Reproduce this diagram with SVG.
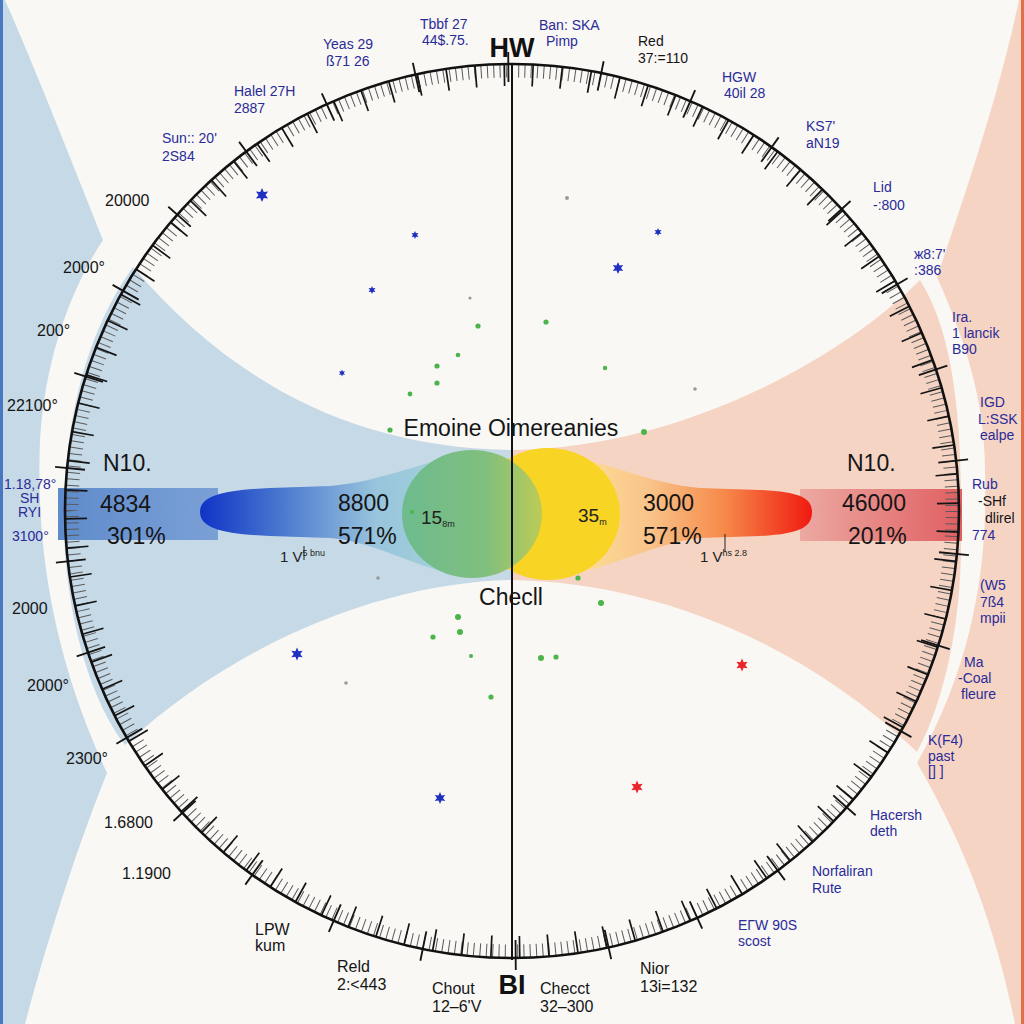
<svg xmlns="http://www.w3.org/2000/svg" width="1024" height="1024" viewBox="0 0 1024 1024">
<style>
text{font-family:"Liberation Sans",Arial,sans-serif}
.b{font-size:14px;fill:#2b2b98}
.k{font-size:16px;fill:#151515}
.kb{font-size:14px;fill:#151515}
.big{font-size:23px;fill:#151515}
.hd{font-size:27px;font-weight:bold;fill:#111}
.sm{font-size:9px;fill:#222}
.g{fill:#4cb54a}
.gr{fill:#9a9a9a}
.bs{fill:#1f2fbf}
.rs{fill:#e8262a}
</style>
<defs>
<path id="star" d="M0,-1 L0.25,-0.433 L0.866,-0.5 L0.5,0 L0.866,0.5 L0.25,0.433 L0,1 L-0.25,0.433 L-0.866,0.5 L-0.5,0 L-0.866,-0.5 L-0.25,-0.433 Z"/>
<linearGradient id="lstrip" x1="0" x2="1" y1="0" y2="0">
<stop offset="0" stop-color="#5f8bcb"/><stop offset="1" stop-color="#7ba0d6"/>
</linearGradient>
<linearGradient id="rstrip" x1="0" x2="1" y1="0" y2="0">
<stop offset="0" stop-color="#eca9a2"/><stop offset="1" stop-color="#e05f62"/>
</linearGradient>
<linearGradient id="lfun" gradientUnits="userSpaceOnUse" x1="200" y1="0" x2="470" y2="0">
<stop offset="0" stop-color="#0f33c6"/><stop offset="0.3" stop-color="#4a78cf"/><stop offset="0.65" stop-color="#98c4dd"/><stop offset="1" stop-color="#a6d6d4"/>
</linearGradient>
<linearGradient id="rfun" gradientUnits="userSpaceOnUse" x1="560" y1="0" x2="812" y2="0">
<stop offset="0" stop-color="#fde69a"/><stop offset="0.35" stop-color="#f9c48a"/><stop offset="0.65" stop-color="#f68a4a"/><stop offset="1" stop-color="#f01a10"/>
</linearGradient>
<linearGradient id="grn" x1="0" x2="1" y1="0" y2="0">
<stop offset="0" stop-color="#6dbb8e"/><stop offset="0.6" stop-color="#80bf7e"/><stop offset="1" stop-color="#bccb55"/>
</linearGradient>
</defs>

<!-- background -->
<rect x="0" y="0" width="512" height="1024" fill="#c6d9e7"/>
<rect x="512" y="0" width="512" height="1024" fill="#f5d4c4"/>
<path fill="#f9f8f5" d="M 5,0 C 40,80 75,170 103,240 C 70,290 45,360 40,440 C 36,540 50,650 107,773 C 80,840 50,930 25,1024 L 512,1024 L 512,580 C 400,582 250,630 125,745 C 90,700 68,620 64,537 C 62,440 80,340 133,267 C 230,380 350,448 512,450 L 512,0 Z"/>
<path fill="#f9f8f5" d="M 1019,0 C 1000,90 970,180 937,277 C 965,340 985,400 985,470 C 988,560 975,660 917,763 C 950,820 990,900 1015,1024 L 512,1024 L 512,580 C 650,582 800,640 917,752 C 945,700 962,620 961,537 C 962,440 958,340 920,280 C 840,360 680,448 512,450 L 512,0 Z"/>
<rect x="0" y="0" width="3" height="1024" fill="#4a78c0"/>
<rect x="1021" y="0" width="3" height="1024" fill="#e0704a"/>

<!-- central band -->
<g id="band">
<rect x="58" y="488" width="160" height="52" fill="url(#lstrip)"/>
<rect x="800" y="489" width="162" height="52" fill="url(#rstrip)"/>
<path fill="url(#lfun)" d="M 200,512 C 200,495 225,490 270,488 L 330,486 C 380,482 420,462 475,452 L 475,578 C 420,572 380,542 330,538 L 270,536 C 225,534 200,529 200,512 Z"/>
<path fill="url(#rfun)" d="M 812,512 C 812,498 800,492 760,490 L 700,488 C 650,484 610,462 550,452 L 550,578 C 610,570 650,544 700,538 L 760,536 C 800,534 812,527 812,512 Z"/>
<ellipse cx="548" cy="514" rx="72" ry="66" fill="#f8d424"/>
<ellipse cx="472" cy="514" rx="70" ry="64" fill="url(#grn)"/>
</g>

<!-- dial -->
<g id="dial" fill="none">
<circle cx="512" cy="511" r="440" stroke="#5a5a5a" stroke-width="13" pathLength="440" stroke-dasharray="0.16 0.84"/>
<circle cx="512" cy="511" r="436" stroke="#151515" stroke-width="22" pathLength="96" stroke-dasharray="0.06 0.94" stroke-dashoffset="0.3"/>
<circle cx="512" cy="511" r="444" stroke="#151515" stroke-width="30" pathLength="30" stroke-dasharray="0.02 0.98" stroke-dashoffset="0.55"/>
<circle cx="512" cy="511" r="447" stroke="#111" stroke-width="2.6"/>
<line x1="512" y1="63" x2="512" y2="960" stroke="#111" stroke-width="2"/>
</g>

<!-- stars and dots -->
<g id="marks">
<use href="#star" class="bs" transform="translate(262,195) scale(7)"/>
<use href="#star" class="bs" transform="translate(415,235) scale(4)"/>
<use href="#star" class="bs" transform="translate(618,268) scale(6)"/>
<use href="#star" class="bs" transform="translate(658,232) scale(4)"/>
<use href="#star" class="bs" transform="translate(372,290) scale(4)"/>
<use href="#star" class="bs" transform="translate(342,373) scale(3.5)"/>
<use href="#star" class="bs" transform="translate(297,654) scale(6.5)"/>
<use href="#star" class="bs" transform="translate(440,798) scale(6)"/>
<use href="#star" class="rs" transform="translate(742,665) scale(6.5)"/>
<use href="#star" class="rs" transform="translate(637,787) scale(6.5)"/>
<circle class="g" cx="478" cy="326" r="2.6"/>
<circle class="g" cx="546" cy="322" r="2.6"/>
<circle class="g" cx="458" cy="355" r="2.3"/>
<circle class="g" cx="437" cy="366" r="2.6"/>
<circle class="g" cx="437" cy="383" r="2.6"/>
<circle class="g" cx="410" cy="394" r="2.4"/>
<circle class="g" cx="605" cy="368" r="2.2"/>
<circle class="g" cx="644" cy="432" r="3"/>
<circle class="g" cx="390" cy="430" r="2.6"/>
<circle class="g" cx="578" cy="578" r="2.6"/>
<circle class="g" cx="601" cy="603" r="3"/>
<circle class="g" cx="458" cy="617" r="3"/>
<circle class="g" cx="460" cy="632" r="3"/>
<circle class="g" cx="433" cy="637" r="2.6"/>
<circle class="g" cx="541" cy="658" r="3"/>
<circle class="g" cx="556" cy="657" r="2.6"/>
<circle class="g" cx="491" cy="697" r="2.6"/>
<circle class="g" cx="471" cy="656" r="2"/>
<circle class="g" cx="412" cy="512" r="2"/>
<circle class="gr" cx="567" cy="198" r="2"/>
<circle class="gr" cx="346" cy="683" r="1.8"/>
<circle class="gr" cx="695" cy="389" r="1.8"/>
<circle class="gr" cx="378" cy="578" r="1.8"/>
<circle class="gr" cx="470" cy="298" r="1.6"/>
</g>

<!-- labels -->
<g id="center-labels">
<text class="hd" x="512" y="57" text-anchor="middle">HW</text>
<text class="hd" x="512" y="994" text-anchor="middle">BI</text>
<text class="big" x="511" y="436" text-anchor="middle">Emoine Oimereanies</text>
<text class="big" x="511" y="605" text-anchor="middle">Checll</text>
<text class="big" x="103" y="471">N10.</text>
<text class="big" x="100" y="512">4834</text>
<text class="big" x="107" y="544">301%</text>
<text class="big" x="338" y="511">8800</text>
<text class="big" x="338" y="544">571%</text>
<text class="big" x="643" y="511">3000</text>
<text class="big" x="643" y="544">571%</text>
<text class="big" x="847" y="471">N10.</text>
<text class="big" x="842" y="511">46000</text>
<text class="big" x="848" y="544">201%</text>
<text x="421" y="524" style="font-size:19px;fill:#222">15<tspan class="sm" dy="3">8m</tspan></text>
<text x="578" y="522" style="font-size:19px;fill:#222">35<tspan class="sm" dy="3">m</tspan></text>
<text x="280" y="562" style="font-size:15px;fill:#222">1 V<tspan class="sm" dy="-6">5 bnu</tspan></text>
<line x1="304" y1="546" x2="304" y2="560" stroke="#222" stroke-width="1"/>
<text x="700" y="562" style="font-size:15px;fill:#222">1 V<tspan class="sm" dy="-6">hs 2.8</tspan></text>
<line x1="725" y1="534" x2="725" y2="552" stroke="#222" stroke-width="1"/>
</g>

<g id="outer-labels">
<text class="b" x="162" y="143">Sun:: 20'</text><text class="b" x="162" y="161">2S84</text>
<text class="b" x="234" y="96">Halel 27H</text><text class="b" x="234" y="113">2887</text>
<text class="b" x="323" y="49">Yeas 29</text><text class="b" x="326" y="66">ß71 26</text>
<text class="b" x="420" y="29">Tbbf 27</text><text class="b" x="422" y="45">44$.75.</text>
<text class="b" x="539" y="30">Ban: SKA</text><text class="b" x="546" y="46">Pimp</text>
<text class="kb" x="638" y="46">Red</text><text class="kb" x="638" y="63">37:=110</text>
<text class="b" x="722" y="82">HGW</text><text class="b" x="724" y="98">40il 28</text>
<text class="b" x="806" y="131">KS7'</text><text class="b" x="806" y="148">aN19</text>
<text class="b" x="873" y="192">Lid</text><text class="b" x="873" y="210">-:800</text>
<text class="b" x="914" y="259">ж8:7'</text><text class="b" x="914" y="275">:386</text>
<text class="b" x="952" y="322">Ira.</text><text class="b" x="952" y="338">1 lancik</text><text class="b" x="952" y="354">B90</text>
<text class="b" x="980" y="407">IGD</text><text class="b" x="978" y="424">L:SSK</text><text class="b" x="980" y="440">ealpe</text>
<text class="b" x="972" y="489">Rub</text><text class="kb" x="978" y="506">-SHf</text><text class="kb" x="985" y="523">dlirel</text><text class="b" x="972" y="540">774</text>
<text class="b" x="980" y="590">(W5</text><text class="b" x="980" y="607">7ß4</text><text class="b" x="980" y="623">mpii</text>
<text class="b" x="964" y="667">Ma</text><text class="b" x="958" y="683">-Coal</text><text class="b" x="961" y="699">fleure</text>
<text class="b" x="928" y="745">K(F4)</text><text class="b" x="928" y="761">past</text><text class="b" x="928" y="776">[] ]</text>
<text class="b" x="870" y="820">Hacersh</text><text class="b" x="870" y="836">deth</text>
<text class="b" x="812" y="876">Norfaliran</text><text class="b" x="812" y="893">Rute</text>
<text class="b" x="738" y="930">EΓW 90S</text><text class="b" x="738" y="946">scost</text>
<text class="k" x="640" y="974">Nior</text><text class="k" x="640" y="992">13i=132</text>
<text class="k" x="540" y="994">Checct</text><text class="k" x="540" y="1012">32–300</text>
<text class="k" x="432" y="994">Chout</text><text class="k" x="432" y="1012">12–6'V</text>
<text class="k" x="337" y="972">Reld</text><text class="k" x="337" y="990">2:&lt;443</text>
<text class="k" x="255" y="935">LPW</text><text class="k" x="255" y="951">kum</text>
<text class="k" x="105" y="206">20000</text>
<text class="k" x="63" y="273">2000°</text>
<text class="k" x="37" y="336">200°</text>
<text class="k" x="7" y="411">22100°</text>
<text class="b" x="4" y="489">1.18,78°</text><text class="b" x="20" y="503">SH</text><text class="b" x="18" y="517">RYI</text><text class="b" x="12" y="541">3100°</text>
<text class="k" x="12" y="614">2000</text>
<text class="k" x="27" y="691">2000°</text>
<text class="k" x="66" y="764">2300°</text>
<text class="k" x="104" y="828">1.6800</text>
<text class="k" x="122" y="879">1.1900</text>
</g>
</svg>
